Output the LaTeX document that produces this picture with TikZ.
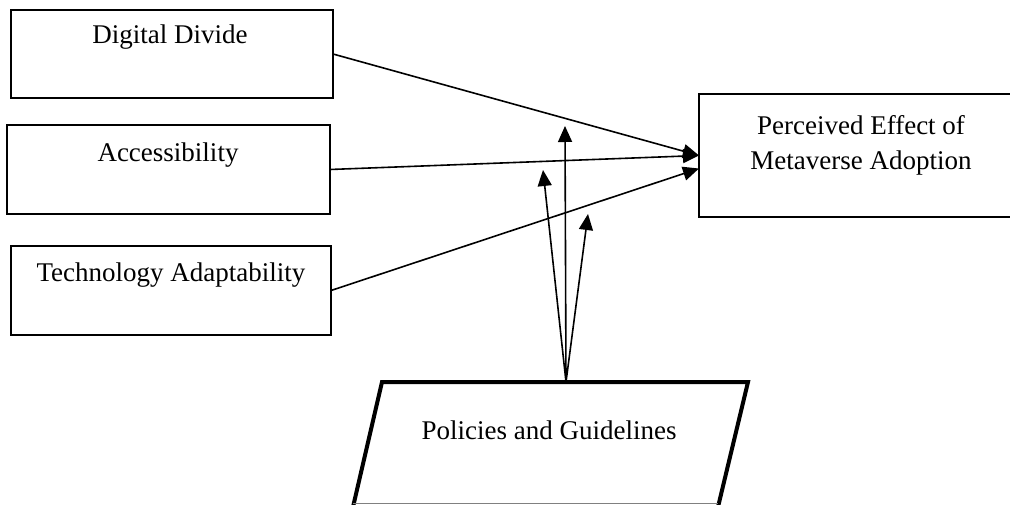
\documentclass[tikz,border=0pt]{standalone}
\usepackage{fontspec}
\setmainfont{Liberation Serif}
\usetikzlibrary{arrows.meta,calc}
\tikzset{
  box/.style={draw, line width=1.4pt, anchor=north west, inner sep=0pt, outer sep=0pt},
  lbl/.style={anchor=base, inner sep=0pt, font=\fontsize{27}{35}\selectfont, align=center},
  arr/.style={line width=1.6pt, -{Triangle[length=16pt, width=14pt]}},
  policy/.style={draw, line width=4pt, line join=miter}
}
\begin{document}
\begin{tikzpicture}[x=1pt, y=-1pt]
\clip (0,0) rectangle (1010,505);
\fill[white] (0,0) rectangle (1010,505);
% boxes
\node[box, minimum width=322pt, minimum height=88pt] (dd) at (11,10) {};
\node[box, minimum width=323pt, minimum height=89pt] (acc) at (7,125) {};
\node[box, minimum width=320pt, minimum height=89pt] (tech) at (11,246) {};
\node[box, minimum width=330pt, minimum height=123pt] (pe) at (699,94) {};
% labels
\node[lbl] (ddl) at (170,44) {Digital Divide};
\node[lbl] (accl) at (168,162) {Accessibility};
\node[lbl] (techl) at (171,282) {Technology Adaptability};
\node[lbl] (pel1) at (861,135) {Perceived Effect of};
\node[lbl] (pel2) at (861,170) {Metaverse Adoption};
% policies parallelogram
\draw[policy] (382,382) -- (748,382) -- (718,507) -- (353,507) -- cycle;
\draw[line width=1pt, gray] (353,503.5) -- (718,503.5);
\node[lbl] (pgl) at (549,439) {Policies and Guidelines};
\coordinate (ptop) at (566,382);
\coordinate (pin) at ($(pe.west)+(0,13)$);
\coordinate (tipv) at (565,126);
\coordinate (tipl) at (543,170);
\coordinate (tipr) at (588,214);
% arrows
\draw[arr] (dd.east) -- (pe.west);
\draw[arr] (acc.east) -- (pe.west);
\draw[arr] (tech.east) -- (pin);
\draw[arr] (ptop) -- (tipv);
\draw[arr] (ptop) -- (tipl);
\draw[arr] (ptop) -- (tipr);
\end{tikzpicture}
\end{document}
